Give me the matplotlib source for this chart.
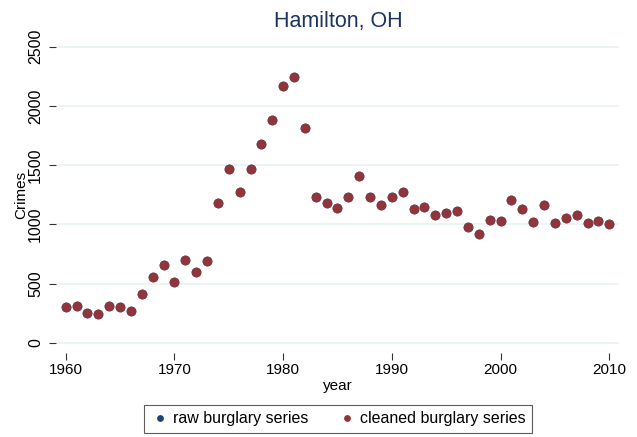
import matplotlib
matplotlib.use("Agg")
import matplotlib.pyplot as plt

plt.rcParams['font.family'] = ['Liberation Sans', 'DejaVu Sans']

years = list(range(1960, 2011))
cleaned = [304, 312, 253, 242, 309, 307, 267, 411, 557, 661,
           515, 700, 602, 692, 1178, 1471, 1271, 1465, 1679, 1879,
           2166, 2241, 1811, 1234, 1184, 1135, 1231, 1410, 1231, 1163,
           1233, 1273, 1126, 1151, 1078, 1098, 1112, 980, 921, 1039,
           1030, 1205, 1129, 1022, 1160, 1014, 1050, 1078, 1008, 1025,
           1003]
raw = list(cleaned)

navy = "#1a476f"
maroon = "#90353b"

fig = plt.figure(figsize=(6.37, 4.37), dpi=100)
ax = fig.add_axes([0.0895, 0.199, 0.8823, 0.7105])

ax.plot(years, raw, 'o', color=navy, markersize=7, markeredgewidth=0, label="raw burglary series")
ax.plot(years, cleaned, 'o', color=maroon, markersize=7, markeredgewidth=0, label="cleaned burglary series")

ax.set_xlim(1959.2, 2010.9)
ax.set_ylim(-60, 2560)
ax.set_xticks([1960, 1970, 1980, 1990, 2000, 2010])
ax.set_yticks([0, 500, 1000, 1500, 2000, 2500])
ax.grid(axis='y', color="#eaf2f3", linewidth=1.2)
ax.set_axisbelow(True)

for s in ['top', 'right']:
    ax.spines[s].set_visible(False)
ax.spines['left'].set_position(('outward', 1))
ax.spines['bottom'].set_position(('outward', 2))
ax.spines['left'].set_color('none')
ax.spines['bottom'].set_color('none')
ax.tick_params(axis='both', direction='out', length=5, width=0.8, color='#333333')
ax.tick_params(axis='x', pad=2, labelsize=11)
ax.tick_params(axis='y', pad=4, labelsize=11.5)
plt.setp(ax.get_yticklabels(), rotation=90, va='center')

ax.set_xlabel("year", fontsize=11, labelpad=2)
ax.set_ylabel("Crimes", fontsize=11, labelpad=0)
ax.set_title("Hamilton, OH", fontsize=15.5, color="#1c3260", pad=9)

leg = ax.legend(loc='upper center', bbox_to_anchor=(0.5, -0.177), ncol=2, frameon=True,
                fancybox=False, edgecolor='#333333', fontsize=11.5, handletextpad=0.2,
                columnspacing=1.8, markerscale=0.7, borderpad=0.4, borderaxespad=0,
                handlelength=1.2)
leg.get_frame().set_linewidth(0.8)

fig.savefig("out.png", dpi=100)
